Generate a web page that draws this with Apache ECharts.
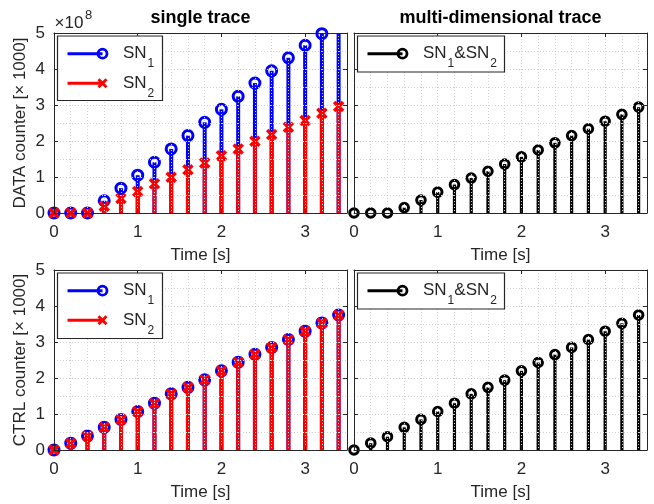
<!DOCTYPE html>
<html>
<head>
<meta charset="utf-8">
<script src="https://cdn.jsdelivr.net/npm/echarts@6/dist/echarts.min.js"></script>
<style>
  html, body { margin: 0; padding: 0; background: #ffffff; }
  #chart { width: 654px; height: 504px; }
</style>
</head>
<body>
<div id="chart"></div>
<script>
// Sample times [s]
const timeS = [0, 0.2, 0.4, 0.6, 0.8, 1.0, 1.2, 1.4, 1.6, 1.8, 2.0, 2.2, 2.4, 2.6, 2.8, 3.0, 3.2, 3.4];

// DATA counter (x 1000), in units of 1e8
const dataSN1   = [0, 0, 0, 0.34, 0.69, 1.05, 1.41, 1.78, 2.15, 2.52, 2.88, 3.24, 3.61, 3.95, 4.31, 4.66, 4.98, 5.34];
const dataSN2   = [0, 0, 0, 0.19, 0.40, 0.60, 0.81, 0.99, 1.20, 1.39, 1.59, 1.78, 1.99, 2.18, 2.38, 2.57, 2.77, 2.96];
const dataMulti = [0, 0, 0, 0.15, 0.36, 0.58, 0.79, 0.97, 1.16, 1.36, 1.56, 1.75, 1.95, 2.15, 2.34, 2.55, 2.74, 2.94];

// CTRL counter (x 1000)
const ctrlSN1   = [0, 0.19, 0.39, 0.63, 0.85, 1.07, 1.30, 1.56, 1.74, 1.95, 2.20, 2.44, 2.66, 2.85, 3.07, 3.30, 3.53, 3.75];
const ctrlSN2   = [0, 0.19, 0.39, 0.63, 0.85, 1.07, 1.30, 1.56, 1.74, 1.95, 2.20, 2.44, 2.66, 2.85, 3.07, 3.30, 3.53, 3.75];
const ctrlMulti = [0, 0.19, 0.37, 0.63, 0.85, 1.07, 1.30, 1.56, 1.74, 1.94, 2.20, 2.43, 2.65, 2.85, 3.07, 3.30, 3.52, 3.75];

// Axis ticks and texts
const xTickLabels = [0, 1, 2, 3];
const yTickLabels = [0, 1, 2, 3, 4, 5];
const panelTitles = ['single trace', 'multi-dimensional trace'];
const yNames = ['DATA counter [× 1000]', 'CTRL counter [× 1000]'];
const xName = 'Time [s]';

const FONT = '"Liberation Sans", Arial, Helvetica, sans-serif';
const INK = '#262626';
const GRIDLINE = { color: '#d2d2d2', width: 1, type: [1, 2] };

// Panel placement: top-left, top-right, bottom-left, bottom-right
const PANELS = [
  { left: 54,  top: 33 },
  { left: 354, top: 33 },
  { left: 54,  top: 270 },
  { left: 354, top: 270 }
];
const PW = 293, PH = 180;

const chart = echarts.init(document.getElementById('chart'), null, { renderer: 'canvas' });

const grids = PANELS.map(p => ({ left: p.left, top: p.top, width: PW, height: PH, containLabel: false }));
const xAxes = [];
const yAxes = [];

PANELS.forEach((p, i) => {
  const isLeft = i % 2 === 0;
  const row = i < 2 ? 0 : 1;
  const axisLine = { show: true, onZero: false, lineStyle: { color: INK, width: 1 } };
  const tick = { show: true, inside: true, length: 4, lineStyle: { color: INK, width: 1 } };
  // bottom axis with labels
  xAxes.push({
    gridIndex: i, type: 'value', min: 0, max: 3.5, interval: 1, position: 'bottom', z: 4,
    axisLine, axisTick: tick,
    axisLabel: {
      fontSize: 17, color: INK, fontFamily: FONT, margin: 11,
      formatter: v => (xTickLabels.indexOf(v) >= 0 ? String(v) : '')
    },
    splitLine: { show: false },
    name: xName, nameLocation: 'middle', nameGap: 34,
    nameTextStyle: { fontSize: 17, color: INK, fontFamily: FONT }
  });
  // top edge of the box
  xAxes.push({
    gridIndex: i, type: 'value', min: 0, max: 3.5, interval: 1, position: 'top', z: 4,
    axisLine, axisTick: tick, axisLabel: { show: false }, splitLine: { show: false }
  });
  // fine vertical grid every 0.2 s
  xAxes.push({
    gridIndex: i, type: 'value', min: 0, max: 3.5, interval: 0.2, position: 'bottom', z: 3,
    axisLine: { show: false }, axisTick: { show: false }, axisLabel: { show: false },
    splitLine: { show: true, lineStyle: GRIDLINE }
  });
  // left axis
  yAxes.push({
    gridIndex: i, type: 'value', min: 0, max: 5, interval: 1, position: 'left', z: 4,
    axisLine, axisTick: tick,
    axisLabel: {
      show: isLeft, fontSize: 17, color: INK, fontFamily: FONT, margin: 9,
      formatter: v => (yTickLabels.indexOf(v) >= 0 ? String(v) : '')
    },
    splitLine: { show: true, lineStyle: GRIDLINE },
    minorTick: { show: false, splitNumber: 2 },
    minorSplitLine: { show: true, lineStyle: GRIDLINE },
    name: isLeft ? yNames[row] : '', nameLocation: 'middle', nameGap: 25, nameRotate: 90,
    nameTextStyle: { fontSize: 17, color: INK, fontFamily: FONT }
  });
  // right edge of the box
  yAxes.push({
    gridIndex: i, type: 'value', min: 0, max: 5, interval: 1, position: 'right', z: 4,
    axisLine, axisTick: tick, axisLabel: { show: false }, splitLine: { show: false }
  });
});

// Marker shapes for the stems
function markerShape(style, c) {
  if (style.marker === 'circle') {
    return { type: 'circle', shape: { cx: c[0], cy: c[1], r: style.size },
             style: { fill: 'none', stroke: style.color, lineWidth: style.markerWidth } };
  }
  const s = style.size;
  return {
    type: 'group', children: [
      { type: 'line', shape: { x1: c[0] - s, y1: c[1] - s, x2: c[0] + s, y2: c[1] + s },
        style: { stroke: style.color, lineWidth: style.markerWidth } },
      { type: 'line', shape: { x1: c[0] - s, y1: c[1] + s, x2: c[0] + s, y2: c[1] - s },
        style: { stroke: style.color, lineWidth: style.markerWidth } }
    ]
  };
}

// Stem plot: vertical line from zero to the value, marker at the tip
function stemSeries(name, panel, values, style) {
  return {
    name, type: 'custom', xAxisIndex: panel * 3, yAxisIndex: panel * 2, z: 2, silent: true,
    data: timeS.map((t, k) => [t, values[k]]),
    encode: { x: 0, y: 1 },
    renderItem: (params, api) => {
      const top = params.coordSys.y;
      const base = api.coord([api.value(0), 0]);
      const tip = api.coord([api.value(0), api.value(1)]);
      const children = [{
        type: 'line',
        shape: { x1: base[0], y1: base[1], x2: tip[0], y2: Math.max(tip[1], top) },
        style: { stroke: style.color, lineWidth: style.stemWidth }
      }];
      if (tip[1] >= top - 0.5) children.push(markerShape(style, tip));
      return { type: 'group', children };
    }
  };
}

const BLUE = { color: '#0000ff', stemWidth: 4, marker: 'circle', size: 5, markerWidth: 3 };
const RED = { color: '#ff0000', stemWidth: 4, marker: 'x', size: 4.5, markerWidth: 3.5 };
const BLACK = { color: '#000000', stemWidth: 3.2, marker: 'circle', size: 4.3, markerWidth: 3 };

const series = [
  stemSeries('SN1', 0, dataSN1, BLUE),
  stemSeries('SN2', 0, dataSN2, RED),
  stemSeries('SN1&SN2', 1, dataMulti, BLACK),
  stemSeries('SN1', 2, ctrlSN1, BLUE),
  stemSeries('SN2', 2, ctrlSN2, RED),
  stemSeries('SN1&SN2', 3, ctrlMulti, BLACK)
];

// Legend boxes drawn as graphics
const RICH = {
  m: { fontSize: 17, fontFamily: FONT, fill: INK },
  s: { fontSize: 12, fontFamily: FONT, fill: INK, padding: [20, 0, 0, 1] }
};
function legendGraphics(panel, width, height, entries) {
  const p = PANELS[panel];
  const bx = p.left + 3.5, by = p.top + 3;
  const els = [{
    type: 'rect', z: 20, shape: { x: bx, y: by, width, height },
    style: { fill: '#ffffff', stroke: INK, lineWidth: 1.2 }
  }];
  entries.forEach((e, k) => {
    const y = by + 17.7 + k * 29.5;
    els.push({ type: 'line', z: 21, shape: { x1: bx + 10, y1: y, x2: bx + 45, y2: y },
               style: { stroke: e.style.color, lineWidth: 3 } });
    const mk = markerShape(Object.assign({}, e.style, { size: e.style.marker === 'circle' ? 4.5 : 4, markerWidth: 2.8 }), [bx + 45, y]);
    mk.z = 22;
    if (mk.children) mk.children.forEach(c => { c.z = 22; });
    els.push(mk);
    els.push({ type: 'text', z: 22, x: bx + 65.5, y,
               style: { text: e.text, rich: RICH, fill: INK, fontSize: 17, fontFamily: FONT,
                        align: 'left', verticalAlign: 'middle' } });
  });
  return els;
}

const graphics = [
  ...legendGraphics(0, 105, 64.5, [
    { text: '{m|SN}{s|1}', style: BLUE },
    { text: '{m|SN}{s|2}', style: RED }
  ]),
  ...legendGraphics(1, 147, 36, [
    { text: '{m|SN}{s|1}{m|&SN}{s|2}', style: BLACK }
  ]),
  ...legendGraphics(2, 105, 65.5, [
    { text: '{m|SN}{s|1}', style: BLUE },
    { text: '{m|SN}{s|2}', style: RED }
  ]),
  ...legendGraphics(3, 147, 36, [
    { text: '{m|SN}{s|1}{m|&SN}{s|2}', style: BLACK }
  ]),
  // panel titles
  { type: 'text', x: PANELS[0].left + PW / 2, y: 18,
    style: { text: panelTitles[0], fill: '#000', fontSize: 18, fontWeight: 'bold', fontFamily: FONT,
             align: 'center', verticalAlign: 'middle' } },
  { type: 'text', x: PANELS[1].left + PW / 2, y: 18,
    style: { text: panelTitles[1], fill: '#000', fontSize: 18, fontWeight: 'bold', fontFamily: FONT,
             align: 'center', verticalAlign: 'middle' } },
  // exponent of the DATA axis
  { type: 'text', x: 54.5, y: 23,
    style: { text: '×10', fill: INK, fontSize: 17, fontFamily: FONT, align: 'left', verticalAlign: 'middle' } },
  { type: 'text', x: 85, y: 15.5,
    style: { text: '8', fill: INK, fontSize: 13, fontFamily: FONT, align: 'left', verticalAlign: 'middle' } }
];

chart.setOption({
  animation: false,
  backgroundColor: '#ffffff',
  grid: grids,
  xAxis: xAxes,
  yAxis: yAxes,
  series,
  graphic: graphics
});
</script>
</body>
</html>
